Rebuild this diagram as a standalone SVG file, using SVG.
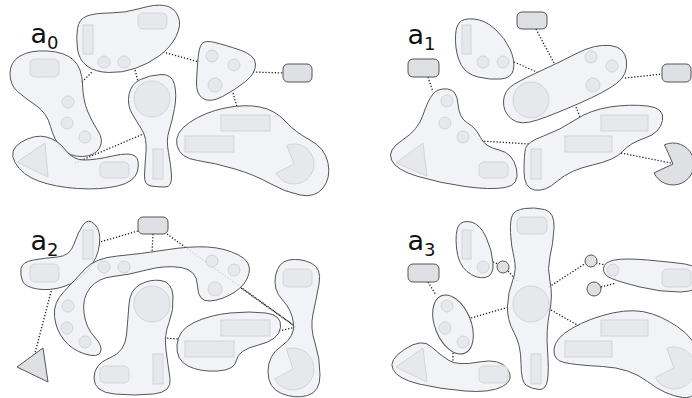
<svg xmlns="http://www.w3.org/2000/svg" width="692" height="398" viewBox="0 0 692 398">
<style>
.blob{fill:#f0f1f4;fill-opacity:0.85;stroke:#555;stroke-width:1}
.in{fill:#e6e8eb;stroke:#d2d4d8;stroke-width:1}
.nd{fill:#dee0e3;stroke:#555;stroke-width:1}
.cn{stroke:#222;stroke-width:1.3;stroke-dasharray:1.3 1.8;fill:none}
.lbl{font-family:"DejaVu Sans",sans-serif;font-size:27px;fill:#111}
.sub{font-size:18px}
</style>
<rect width="692" height="398" fill="#fff"/>
<g id="connectors">
<!-- a0 -->
<line class="cn" x1="82" y1="82" x2="93" y2="71"/>
<line class="cn" x1="135" y1="70" x2="138" y2="81"/>
<line class="cn" x1="163" y1="52" x2="199" y2="62"/>
<line class="cn" x1="253" y1="72" x2="283" y2="73"/>
<line class="cn" x1="233" y1="93" x2="237" y2="107"/>
<line class="cn" x1="75" y1="163" x2="148" y2="132"/>
<!-- a1 -->
<line class="cn" x1="428" y1="77" x2="433" y2="92"/>
<line class="cn" x1="536" y1="29" x2="554" y2="63"/>
<line class="cn" x1="514" y1="62" x2="539" y2="73"/>
<line class="cn" x1="625" y1="78" x2="662" y2="74"/>
<line class="cn" x1="576" y1="107" x2="580" y2="117"/>
<line class="cn" x1="481" y1="141" x2="529" y2="144"/>
<line class="cn" x1="621" y1="153" x2="671" y2="163"/>
<!-- a2 -->
<line class="cn" x1="138" y1="231" x2="100" y2="242"/>
<line class="cn" x1="153" y1="234" x2="152" y2="253"/>
<line class="cn" x1="167" y1="234" x2="296" y2="327"/>
<line class="cn" x1="241" y1="288" x2="296" y2="327"/>
<line class="cn" x1="279" y1="331" x2="296" y2="327"/>
<line class="cn" x1="164" y1="338" x2="178" y2="339"/>
<line class="cn" x1="52" y1="288" x2="35" y2="353"/>
<!-- a3 -->
<line class="cn" x1="428" y1="282" x2="436" y2="295"/>
<line class="cn" x1="493" y1="262" x2="498" y2="264"/>
<line class="cn" x1="508" y1="271" x2="518" y2="282"/>
<line class="cn" x1="471" y1="318" x2="509" y2="307"/>
<line class="cn" x1="549" y1="287" x2="586" y2="263"/>
<line class="cn" x1="596" y1="263" x2="605" y2="265"/>
<line class="cn" x1="601" y1="287" x2="616" y2="283"/>
<line class="cn" x1="551" y1="310" x2="579" y2="326"/>
<line class="cn" x1="453" y1="353" x2="453" y2="364"/>
</g>

<text class="lbl" x="30.5" y="43">a<tspan class="sub" dy="6">0</tspan></text>
<text class="lbl" x="407.5" y="43.5">a<tspan class="sub" dy="6">1</tspan></text>
<text class="lbl" x="30.5" y="250">a<tspan class="sub" dy="6">2</tspan></text>
<text class="lbl" x="407.5" y="250">a<tspan class="sub" dy="6">3</tspan></text>

<!-- ===== a0 ===== -->
<g id="a0-top">
<path class="blob" d="M 77.5,28.5 Q 79,19 87,16 Q 95,13 110,13 Q 125,13 140,8.5 Q 155,4 164.5,5.5 Q 174,7 178,16 Q 182,25 176,36.5 Q 170,48 159,56 Q 148,64 135,68.5 Q 122,73 108.5,72.5 Q 95,72 87,66 Q 79,60 77.5,49 Q 76,38 77.5,28.5 Z"/>
<rect class="in" x="138" y="13" width="29" height="16" rx="5"/>
<rect class="in" x="83" y="25" width="10" height="29"/>
<circle class="in" cx="104" cy="62" r="6"/>
<circle class="in" cx="124" cy="62" r="6"/>
</g>
<g id="a0-left">
<path class="blob" d="M 10,73.5 Q 10,62 20,56 Q 30,50 47.5,51 Q 65,52 73.5,60 Q 82,68 82.5,84 Q 83,100 87.5,111 Q 92,122 98,131 Q 104,140 99.5,148 Q 95,156 82.5,156.5 Q 70,157 62,148.5 Q 54,140 50.5,126.5 Q 47,113 36,105.5 Q 25,98 17.5,91.5 Q 10,85 10,73.5 Z"/>
<rect class="in" x="30" y="59" width="29" height="18" rx="5"/>
<circle class="in" cx="68" cy="102" r="6"/>
<circle class="in" cx="67" cy="123" r="6"/>
<circle class="in" cx="85" cy="137" r="6"/>
</g>
<g id="a0-bottom-left">
<path class="blob" d="M 15,162.5 Q 8,150 21.5,142 Q 35,134 46.5,137 Q 58,140 65.5,150 Q 73,160 84,160 Q 95,160 112.5,156 Q 130,152 135,156 Q 140,160 137.5,171 Q 135,182 117.5,186 Q 100,190 77.5,188.5 Q 55,187 38.5,181 Q 22,175 15,162.5 Z"/>
<polygon class="in" points="17,162 45,143 48,177"/>
<rect class="in" x="100" y="162" width="29" height="16" rx="5"/>
</g>
<g id="a0-mid">
<path class="blob" d="M 140.5,79.5 Q 150,75 161,74.5 Q 172,74 174.5,84.5 Q 177,95 174.5,108.5 Q 172,122 169,131 Q 166,140 168.5,152.5 Q 171,165 171.5,176 Q 172,187 165,187 Q 158,187 151,186 Q 144,185 144.5,175 Q 145,165 146,151.5 Q 147,138 142,130 Q 137,122 132,113.5 Q 127,105 129,94.5 Q 131,84 140.5,79.5 Z"/>
<circle class="in" cx="152" cy="99" r="18"/>
<rect class="in" x="153" y="149" width="10" height="30"/>
</g>
<g id="a0-tri">
<path class="blob" d="M 202,43.5 Q 205,40 215,42.5 Q 225,45 240,50 Q 255,55 255.5,64 Q 256,73 245.5,81.5 Q 235,90 222.5,96.5 Q 210,103 203,98.5 Q 196,94 196.5,82 Q 197,70 198,58.5 Q 199,47 202,43.5 Z"/>
<circle class="in" cx="212" cy="56" r="6"/>
<circle class="in" cx="234" cy="65" r="6"/>
<circle class="in" cx="215" cy="85" r="7"/>
</g>
<g id="a0-node">
<rect class="nd" x="283" y="64" width="29" height="18" rx="5"/>
</g>
<g id="a0-big">
<path class="blob" d="M 177,145.5 Q 174,133 189.5,122.5 Q 205,112 225,108 Q 245,104 260,107 Q 275,110 285,121 Q 295,132 310,140 Q 325,148 328,163 Q 331,178 323,188 Q 315,198 300,195 Q 285,192 270,183.5 Q 255,175 235,169 Q 215,163 197.5,160.5 Q 180,158 177,145.5 Z"/>
<rect class="in" x="221" y="115" width="49" height="16"/>
<rect class="in" x="185" y="136" width="49" height="16"/>
<path class="in" d="M 294,164 L 286.8,145.3 A 20 20 0 1 1 276.2,173.1 Z"/>
</g>

<!-- ===== a1 ===== -->
<g id="a1-egg">
<path class="blob" d="M 459,23 Q 463,18 474,19 Q 485,20 495,29 Q 505,38 510,49 Q 515,60 513.5,69 Q 512,78 501,79 Q 490,80 478,77 Q 466,74 461,64.5 Q 456,55 455.5,41.5 Q 455,28 459,23 Z"/>
<rect class="in" x="462" y="25" width="9" height="29"/>
<circle class="in" cx="483" cy="62" r="6"/>
<circle class="in" cx="503" cy="62" r="6"/>
</g>
<g id="a1-node-top"><rect class="nd" x="517" y="12" width="30" height="17" rx="5"/></g>
<g id="a1-node-left"><rect class="nd" x="408" y="59" width="31" height="18" rx="5"/></g>
<g id="a1-node-right"><rect class="nd" x="662" y="64" width="29" height="18" rx="5"/></g>
<g id="a1-pac"><path class="nd" d="M 673,164 L 664.5,144.8 A 21 21 0 1 1 654,172.9 Z"/></g>
<g id="a1-long">
<path class="blob" d="M 514.5,84 Q 525,78 542.5,70 Q 560,62 577.5,53 Q 595,44 610,45.5 Q 625,47 626.5,61 Q 628,75 616.5,83.5 Q 605,92 580,103 Q 555,114 537.5,120 Q 520,126 511.5,119 Q 503,112 503.5,101 Q 504,90 514.5,84 Z"/>
<circle class="in" cx="531" cy="100" r="18"/>
<circle class="in" cx="591" cy="57" r="6"/>
<circle class="in" cx="612" cy="66" r="6"/>
<circle class="in" cx="593" cy="85" r="7"/>
</g>
<g id="a1-left">
<path class="blob" d="M 433,94 Q 438,88 447.5,89 Q 457,90 458,104 Q 459,118 467.5,123 Q 476,128 480.5,137.5 Q 485,147 499,150 Q 513,153 516.5,169 Q 520,185 505,187.5 Q 490,190 465,186.5 Q 440,183 418,176.5 Q 396,170 391.5,160 Q 387,150 402.5,140 Q 418,130 423,115 Q 428,100 433,94 Z"/>
<circle class="in" cx="447" cy="101" r="6"/>
<circle class="in" cx="445" cy="123" r="6"/>
<circle class="in" cx="463" cy="137" r="6"/>
<polygon class="in" points="396,163 423,143 427,176"/>
<rect class="in" x="479" y="162" width="29" height="16" rx="5"/>
</g>
<g id="a1-bottom">
<path class="blob" d="M 525.5,148.5 Q 527,142 543.5,136 Q 560,130 575,120 Q 590,110 610,107 Q 630,104 647.5,106 Q 665,108 662.5,120.5 Q 660,133 645,138 Q 630,143 622.5,151.5 Q 615,160 592.5,165 Q 570,170 557.5,181 Q 545,192 534.5,190 Q 524,188 524,171.5 Q 524,155 525.5,148.5 Z"/>
<rect class="in" x="601" y="115" width="47" height="16"/>
<rect class="in" x="565" y="136" width="47" height="16"/>
<rect class="in" x="531" y="149" width="10" height="30"/>
</g>

<!-- ===== a2 ===== -->
<g id="a2-node"><rect class="nd" x="138" y="217" width="30" height="17" rx="5"/></g>
<g id="a2-tri"><polygon class="nd" points="17,367 43,348 48,382"/></g>
<g id="a2-crescent">
<path class="blob" d="M 21,268.5 Q 22,262 33.5,260 Q 45,258 57.5,257 Q 70,256 74,244 Q 78,232 83,225 Q 88,218 94.5,224 Q 101,230 99.5,244 Q 98,258 88,270 Q 78,282 64,286.5 Q 50,291 37.5,289 Q 25,287 22.5,281 Q 20,275 21,268.5 Z"/>
<rect class="in" x="83" y="230" width="10" height="29"/>
<rect class="in" x="30" y="264" width="29" height="18" rx="5"/>
</g>
<g id="a2-c">
<path class="blob" d="M 85,269 Q 95,258 117.5,256 Q 140,254 165,250 Q 190,246 207.5,247 Q 225,248 238.5,255 Q 252,262 249,273.5 Q 246,285 234,292.5 Q 222,300 210,301 Q 198,302 197.5,286 Q 197,270 181,267.5 Q 165,265 146.5,270 Q 128,275 113,276.5 Q 98,278 90,288 Q 82,298 84,313 Q 86,328 94.5,337 Q 103,346 100.5,352 Q 98,358 85,354 Q 72,350 64,340 Q 56,330 54.5,316.5 Q 53,303 64,291.5 Q 75,280 85,269 Z"/>
<circle class="in" cx="104" cy="267" r="6"/>
<circle class="in" cx="124" cy="267" r="6"/>
<circle class="in" cx="212" cy="261" r="6"/>
<circle class="in" cx="234" cy="270" r="6"/>
<circle class="in" cx="215" cy="289" r="7"/>
<circle class="in" cx="68" cy="306" r="6"/>
<circle class="in" cx="67" cy="328" r="6"/>
<circle class="in" cx="85" cy="342" r="6"/>
</g>
<g id="a2-mid">
<path class="blob" d="M 140,284.5 Q 150,279 161,280.5 Q 172,282 173,296 Q 174,310 169,322.5 Q 164,335 166,350 Q 168,365 170,378.5 Q 172,392 153.5,394 Q 135,396 114.5,394 Q 94,392 94,378 Q 94,364 109.5,358 Q 125,352 126.5,335 Q 128,318 129,304 Q 130,290 140,284.5 Z"/>
<circle class="in" cx="152" cy="304" r="18"/>
<rect class="in" x="153" y="354" width="10" height="30"/>
<rect class="in" x="100" y="366" width="29" height="17" rx="5"/>
</g>
<g id="a2-oval">
<path class="blob" d="M 177,345 Q 178,330 194,322.5 Q 210,315 230,313 Q 250,311 266,313 Q 282,315 280.5,327.5 Q 279,340 258.5,345 Q 238,350 236.5,360 Q 235,370 217.5,371 Q 200,372 188,366 Q 176,360 177,345 Z"/>
<rect class="in" x="221" y="320" width="49" height="16"/>
<rect class="in" x="185" y="341" width="49" height="16"/>
</g>
<g id="a2-pin">
<path class="blob" d="M 275.5,276 Q 278,262 289,260 Q 300,258 311,263 Q 322,268 319,284 Q 316,300 313,314 Q 310,328 315,343 Q 320,358 320,375 Q 320,392 307.5,395.5 Q 295,399 281.5,393.5 Q 268,388 268,371.5 Q 268,355 281.5,346 Q 295,337 293.5,323.5 Q 292,310 282.5,300 Q 273,290 275.5,276 Z"/>
<rect class="in" x="283" y="269" width="29" height="18" rx="5"/>
<path class="in" d="M 293,369 L 286.4,349.1 A 21 21 0 1 1 274.5,378.9 Z"/>
</g>

<!-- ===== a3 ===== -->
<g id="a3-node"><rect class="nd" x="408" y="264" width="31" height="18" rx="5"/></g>
<g id="a3-dot1"><circle class="nd" cx="503" cy="267" r="6"/></g>
<g id="a3-dot2"><circle class="nd" cx="591" cy="261" r="6"/></g>
<g id="a3-dot3"><circle class="nd" cx="594" cy="289" r="7"/></g>
<g id="a3-egg">
<path class="blob" d="M 458.5,226 Q 462,220 471,222 Q 480,224 486,237 Q 492,250 493,263 Q 494,276 485,277.5 Q 476,279 467,271.5 Q 458,264 456.5,248 Q 455,232 458.5,226 Z"/>
<rect class="in" x="462" y="230" width="9" height="29"/>
<circle class="in" cx="483" cy="267" r="6"/>
</g>
<g id="a3-ellipse">
<ellipse class="blob" cx="453" cy="324.5" rx="18" ry="31" transform="rotate(-22 453 324.5)"/>
<circle class="in" cx="447" cy="306" r="6"/>
<circle class="in" cx="445" cy="328" r="6"/>
<circle class="in" cx="463" cy="342" r="6"/>
</g>
<g id="a3-tall">
<path class="blob" d="M 512.5,215 Q 515,210 524.5,208.5 Q 534,207 544.5,209.5 Q 555,212 554,228.5 Q 553,245 550,256.5 Q 547,268 550,281.5 Q 553,295 549.5,312.5 Q 546,330 547.5,350 Q 549,370 547.5,380 Q 546,390 539,389.5 Q 532,389 526.5,385.5 Q 521,382 521,363.5 Q 521,345 514,332.5 Q 507,320 507.5,306 Q 508,292 512.5,281 Q 517,270 514,257.5 Q 511,245 510.5,232.5 Q 510,220 512.5,215 Z"/>
<rect class="in" x="517" y="217" width="30" height="17" rx="5"/>
<circle class="in" cx="531" cy="304" r="18"/>
<rect class="in" x="531" y="354" width="10" height="30"/>
</g>
<g id="a3-right">
<path class="blob" d="M 603.5,268.5 Q 604,262 614.5,260 Q 625,258 647.5,260 Q 670,262 685,264 Q 700,266 700,279 Q 700,292 680,292 Q 660,292 640,287 Q 620,282 611.5,278.5 Q 603,275 603.5,268.5 Z"/>
<circle class="in" cx="613" cy="270" r="6"/>
<rect class="in" x="662" y="269" width="29" height="18" rx="5"/>
</g>
<g id="a3-bottom-left">
<path class="blob" d="M 393,369.5 Q 388,360 405,349 Q 422,338 431,346.5 Q 440,355 449,360.5 Q 458,366 479,362 Q 500,358 507.5,369 Q 515,380 502.5,386.5 Q 490,393 465,391 Q 440,389 419,384 Q 398,379 393,369.5 Z"/>
<polygon class="in" points="396,367 423,348 427,382"/>
<rect class="in" x="479" y="366" width="29" height="17" rx="5"/>
</g>
<g id="a3-big">
<path class="blob" d="M 554,349 Q 555,338 572.5,328 Q 590,318 612.5,313 Q 635,308 652.5,314 Q 670,320 685,332.5 Q 700,345 700,372.5 Q 700,400 682.5,397.5 Q 665,395 647.5,381.5 Q 630,368 602.5,366.5 Q 575,365 564,362.5 Q 553,360 554,349 Z"/>
<rect class="in" x="601" y="320" width="47" height="16"/>
<rect class="in" x="565" y="341" width="47" height="16"/>
<path class="in" d="M 674,368 L 666.8,348.3 A 21 21 0 1 1 655.3,377.5 Z"/>
</g>
</svg>
